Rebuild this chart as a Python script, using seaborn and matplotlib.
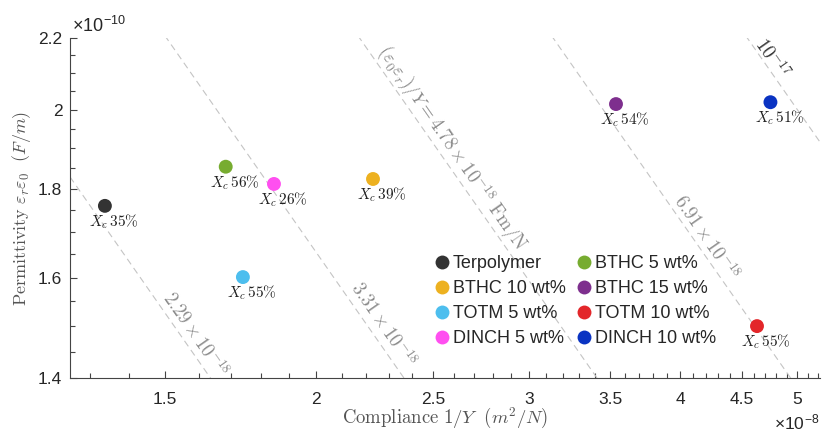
import numpy as np
import pandas as pd
import matplotlib
matplotlib.use("Agg")
import matplotlib.pyplot as plt
from matplotlib.ticker import FixedLocator, FormatStrFormatter, NullFormatter
import seaborn as sns

# ---- data (x in 1e-8 m^2/N, y in 1e-10 F/m) ----
series = ["Terpolymer", "BTHC 10 wt%", "TOTM 5 wt%", "DINCH 5 wt%",
          "BTHC 5 wt%", "BTHC 15 wt%", "TOTM 10 wt%", "DINCH 10 wt%"]
compliance = [1.338, 2.229, 1.740, 1.846, 1.684, 3.54, 4.63, 4.75]
permittivity = [1.760, 1.824, 1.601, 1.812, 1.854, 2.015, 1.500, 2.020]
crystallinity = [35, 39, 55, 26, 56, 54, 55, 51]
colors = ["#333333", "#EDB120", "#4DBEEE", "#FF4FF0",
          "#77AC30", "#7E2F8E", "#E3262A", "#0A33C2"]

line_consts = [2.29, 3.31, 4.78, 6.91, 10.0]
line_texts = [r"$2.29\times10^{-18}$", r"$3.31\times10^{-18}$",
              r"$(\varepsilon_0\varepsilon_r)/Y=4.78\times10^{-18}\ \mathrm{Fm/N}$",
              r"$6.91\times10^{-18}$", r"$10^{-17}$"]
line_text_pos = [(1.588, 1.484), (2.272, 1.502), (2.59, 1.901), (4.203, 1.687), (4.766, 2.142)]
line_text_colors = ["#8a8a8a", "#8a8a8a", "#8a8a8a", "#8a8a8a", "#333333"]

xticks = [1.5, 2, 2.5, 3, 3.5, 4, 4.5, 5]
yticks = [1.4, 1.6, 1.8, 2.0, 2.2]
xlim = (1.252, 5.22)
ylim = (1.4, 2.2)

df = pd.DataFrame({"series": series, "x": compliance, "y": permittivity})

sns.set_theme(style="white")
plt.rcParams["font.family"] = ["Liberation Sans", "DejaVu Sans"]
plt.rcParams["mathtext.fontset"] = "cm"

fig = plt.figure(figsize=(8.22, 4.33), dpi=100)
ax = fig.add_axes([70 / 822, 55 / 433, 750 / 822, 340 / 433])

ax.set_xscale("log")
ax.set_yscale("log")
ax.set_xlim(*xlim)
ax.set_ylim(*ylim)

# iso-lines of constant product
xs = np.geomspace(xlim[0], xlim[1], 200)
for c in line_consts:
    ax.plot(xs, c / xs, color="#c4c4c4", lw=0.8, dashes=(6, 4), zorder=1)

sns.scatterplot(data=df, x="x", y="y", hue="series", hue_order=series,
                palette=colors, s=100, edgecolor="none", ax=ax, zorder=3)

# rotation of iso-lines on screen
p1 = ax.transData.transform((2.0, 2.0))
p2 = ax.transData.transform((4.0, 1.0))
ang = np.degrees(np.arctan2(p2[1] - p1[1], p2[0] - p1[0]))
for t, (px, py), col in zip(line_texts, line_text_pos, line_text_colors):
    ax.text(px, py, t, rotation=ang, rotation_mode="anchor", ha="center", va="center",
            fontsize=13.5, color=col, zorder=2)

for xv, yv, xc in zip(compliance, permittivity, crystallinity):
    ax.annotate(r"$X_c\,%d\%%$" % xc, (xv, yv), xytext=(6.5, -11.5),
                textcoords="offset points", ha="center", va="center",
                fontsize=11, color="#222222")

ax.xaxis.set_major_locator(FixedLocator(xticks))
ax.xaxis.set_major_formatter(FormatStrFormatter("%g"))
ax.xaxis.set_minor_locator(FixedLocator(np.round(np.arange(1.3, 5.25, 0.1), 2)))
ax.xaxis.set_minor_formatter(NullFormatter())
ax.yaxis.set_major_locator(FixedLocator(yticks))
ax.yaxis.set_major_formatter(FormatStrFormatter("%g"))
ax.yaxis.set_minor_locator(FixedLocator(np.round(np.arange(1.4, 2.21, 0.05), 2)))
ax.yaxis.set_minor_formatter(NullFormatter())

ax.tick_params(axis="both", which="major", direction="in", length=5, width=0.8,
               color="#444444", labelsize=12.5, labelcolor="#262626",
               bottom=True, left=True)
ax.tick_params(axis="x", which="major", pad=10)
ax.tick_params(axis="y", which="major", pad=5.5)
ax.tick_params(axis="both", which="minor", direction="in", length=3.5, width=0.8,
               color="#444444", bottom=True, left=True)
for s in ["top", "right"]:
    ax.spines[s].set_visible(False)
for s in ["left", "bottom"]:
    ax.spines[s].set_color("#444444")
    ax.spines[s].set_linewidth(0.8)

ax.set_xlabel(r"$\mathrm{Compliance}\ 1/Y\ \ (m^2/N)$", fontsize=13.5, color="#555555")
ax.set_ylabel(r"$\mathrm{Permittivity}\ \varepsilon_r\varepsilon_0\ \ (F/m)$", fontsize=13, color="#555555")
ax.xaxis.set_label_coords(0.5, -(418 - 378) / 340)
ax.yaxis.set_label_coords(-(70 - 22) / 750, 0.5)
ax.xaxis.label.set_va("center")
ax.yaxis.label.set_va("center")

fig.text(72 / 822, 1 - 26 / 433, r"×10$^{\mathregular{-10}}$", fontsize=13, color="#262626",
         ha="left", va="center")
fig.text(774 / 822, 1 - 423 / 433, r"×10$^{\mathregular{-8}}$", fontsize=12.5, color="#262626",
         ha="left", va="center")

handles, labels = ax.get_legend_handles_labels()
ax.legend(handles, labels, ncol=2, loc="center", bbox_to_anchor=(0.674, 0.226),
          frameon=False, fontsize=13, handlelength=0.8, handletextpad=0.2,
          columnspacing=0.6, labelspacing=0.45, borderpad=0.2)

fig.savefig("out.png", dpi=100)
